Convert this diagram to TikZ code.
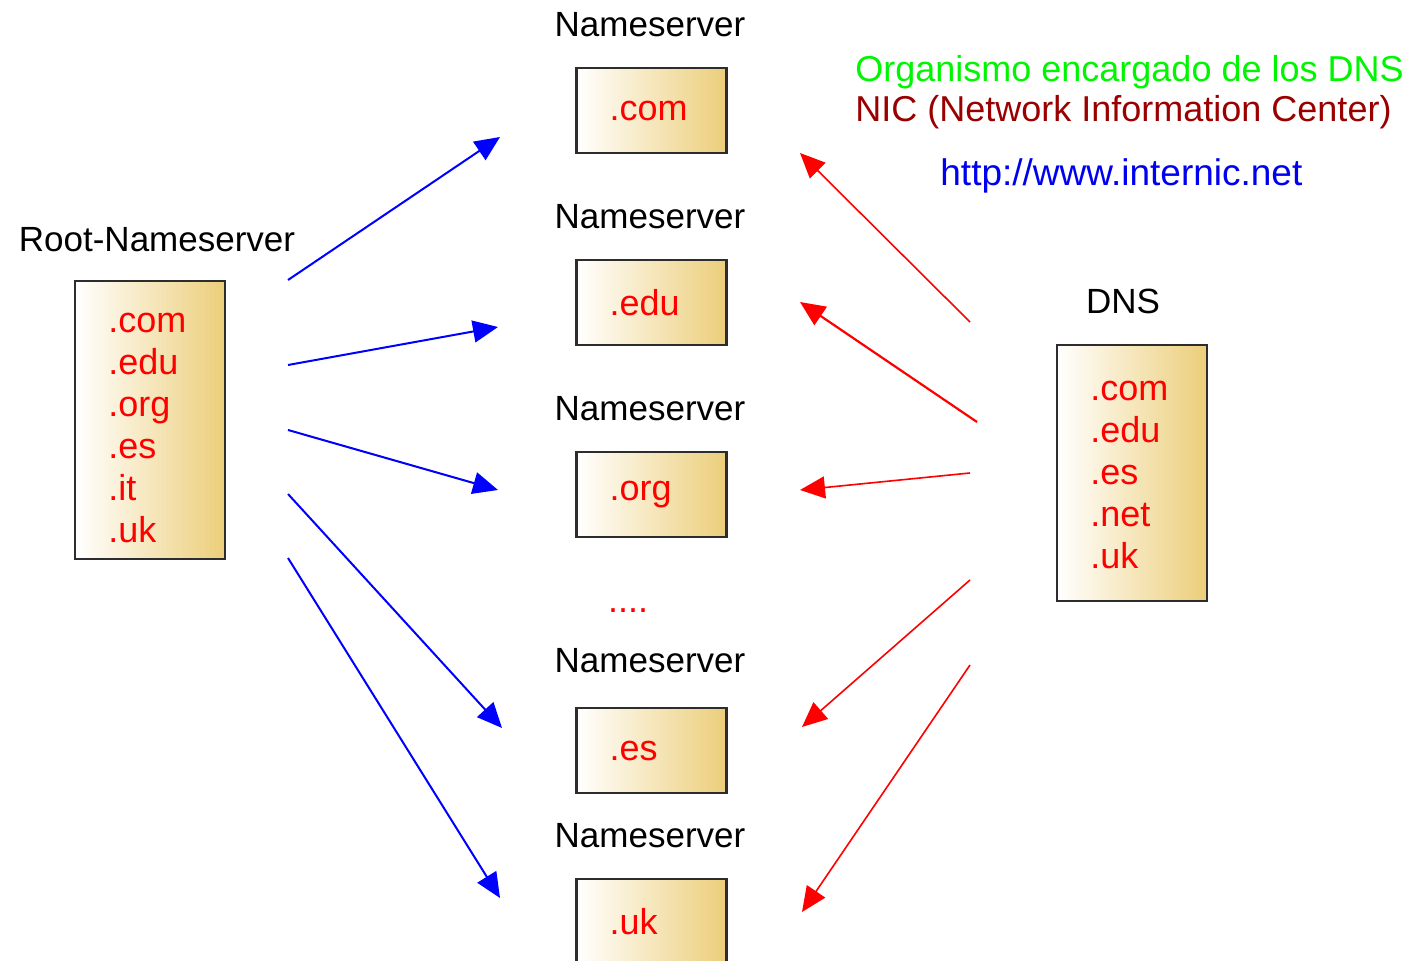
\documentclass[tikz,border=0pt]{standalone}
\usepackage{fontspec}
\setmainfont{Liberation Sans}
\usetikzlibrary{arrows.meta}

\definecolor{boxgold}{RGB}{236,206,122}
\definecolor{boxframe}{RGB}{45,45,45}
\definecolor{nicred}{RGB}{155,0,0}
\definecolor{orggreen}{RGB}{0,245,0}
\definecolor{linkblue}{RGB}{0,0,240}

\begin{document}
\begin{tikzpicture}[x=0.5pt,y=-0.5pt,
  tldbox/.style={draw=boxframe, line width=1.2pt, left color=white, right color=boxgold,
    text width=42pt, inner xsep=16.5pt, inner ysep=0pt, align=left,
    font=\fontsize{18}{21}\selectfont, text=red},
  nslabel/.style={font=\fontsize{17.5}{21}\selectfont, text=black, inner sep=0pt},
  toplink/.style={draw=blue, line width=1pt, -{Triangle[length=12.5pt,width=11pt]}},
  fromdns/.style={draw=red, line width=0.8pt, -{Triangle[length=12.5pt,width=11pt]}},
  infotext/.style={font=\fontsize{18}{21}\selectfont, inner sep=0pt, anchor=base west}
]
\clip (0,0) rectangle (1412,961);

% root nameserver with its list of top-level domains
\node[nslabel] (rootlbl) at (157,240) {Root-Nameserver};
\node[draw=boxframe, line width=1.2pt, left color=white, right color=boxgold,
      minimum width=75pt, minimum height=139pt] (root) at (150,420) {};
\node[text width=42pt, align=left, inner sep=0pt, font=\fontsize{18}{21}\selectfont,
      text=red, anchor=west] (roottlds) at (108,428)
  {.com\\.edu\\.org\\.es\\.it\\.uk};

% nameservers of each top-level domain
\node[nslabel] (nscomlbl) at (650,25) {Nameserver};
\node[tldbox, minimum height=42.5pt] (nscom) at (651.5,110.5) {.com};
\node[nslabel] (nsedulbl) at (650,217) {Nameserver};
\node[tldbox, minimum height=42.5pt] (nsedu) at (651.5,302.5) {.edu};
\node[nslabel] (nsorglbl) at (650,409) {Nameserver};
\node[tldbox, minimum height=42.5pt] (nsorg) at (651.5,494.5) {.org};
\node[font=\fontsize{18}{21}\selectfont, text=red, inner sep=0pt] (dots) at (628,611) {....};
\node[nslabel] (nseslbl) at (650,661) {Nameserver};
\node[tldbox, minimum height=42.5pt] (nses) at (651.5,750.5) {.es};
\node[nslabel] (nsuklbl) at (650,836) {Nameserver};
\node[tldbox, minimum height=42.5pt] (nsuk) at (651.5,921.5) {.uk};

% DNS box
\node[nslabel] (dnslbl) at (1123,301) {DNS};
\node[draw=boxframe, line width=1.2pt, left color=white, right color=boxgold,
      minimum width=75pt, minimum height=128pt] (dns) at (1132,473) {};
\node[text width=42pt, align=left, inner sep=0pt, font=\fontsize{18}{21}\selectfont,
      text=red, anchor=west] (dnstlds) at (1090,475)
  {.com\\.edu\\.es\\.net\\.uk};

% organisation text
\node[infotext, text=orggreen] (org) at (855,82) {Organismo encargado de los DNS};
\node[infotext, text=nicred] (nic) at (855,122) {NIC (Network Information Center)};
\node[infotext, text=linkblue, font=\fontsize{18.5}{21}\selectfont] (url) at (940,186) {http://www.internic.net};

% connector end points
\coordinate (r1) at (288,280);  \coordinate (t1) at (500,137);
\coordinate (r2) at (288,365);  \coordinate (t2) at (498,327);
\coordinate (r3) at (288,430);  \coordinate (t3) at (498,490);
\coordinate (r4) at (288,494);  \coordinate (t4) at (502,728);
\coordinate (r5) at (288,558);  \coordinate (t5) at (500,898);
\coordinate (d1) at (970,322);  \coordinate (u1) at (800,153);
\coordinate (d2) at (977,422);  \coordinate (u2) at (800,302);
\coordinate (d3) at (970,473);  \coordinate (u3) at (800,490);
\coordinate (d4) at (970,580);  \coordinate (u4) at (802,727);
\coordinate (d5) at (970,665);  \coordinate (u5) at (802,912);

% root to nameservers
\draw[toplink] (r1) -- (t1);
\draw[toplink] (r2) -- (t2);
\draw[toplink] (r3) -- (t3);
\draw[toplink] (r4) -- (t4);
\draw[toplink] (r5) -- (t5);

% DNS to nameservers
\draw[fromdns] (d1) -- (u1);
\draw[fromdns, line width=1.1pt] (d2) -- (u2);
\draw[fromdns] (d3) -- (u3);
\draw[fromdns] (d4) -- (u4);
\draw[fromdns] (d5) -- (u5);
\end{tikzpicture}
\end{document}
